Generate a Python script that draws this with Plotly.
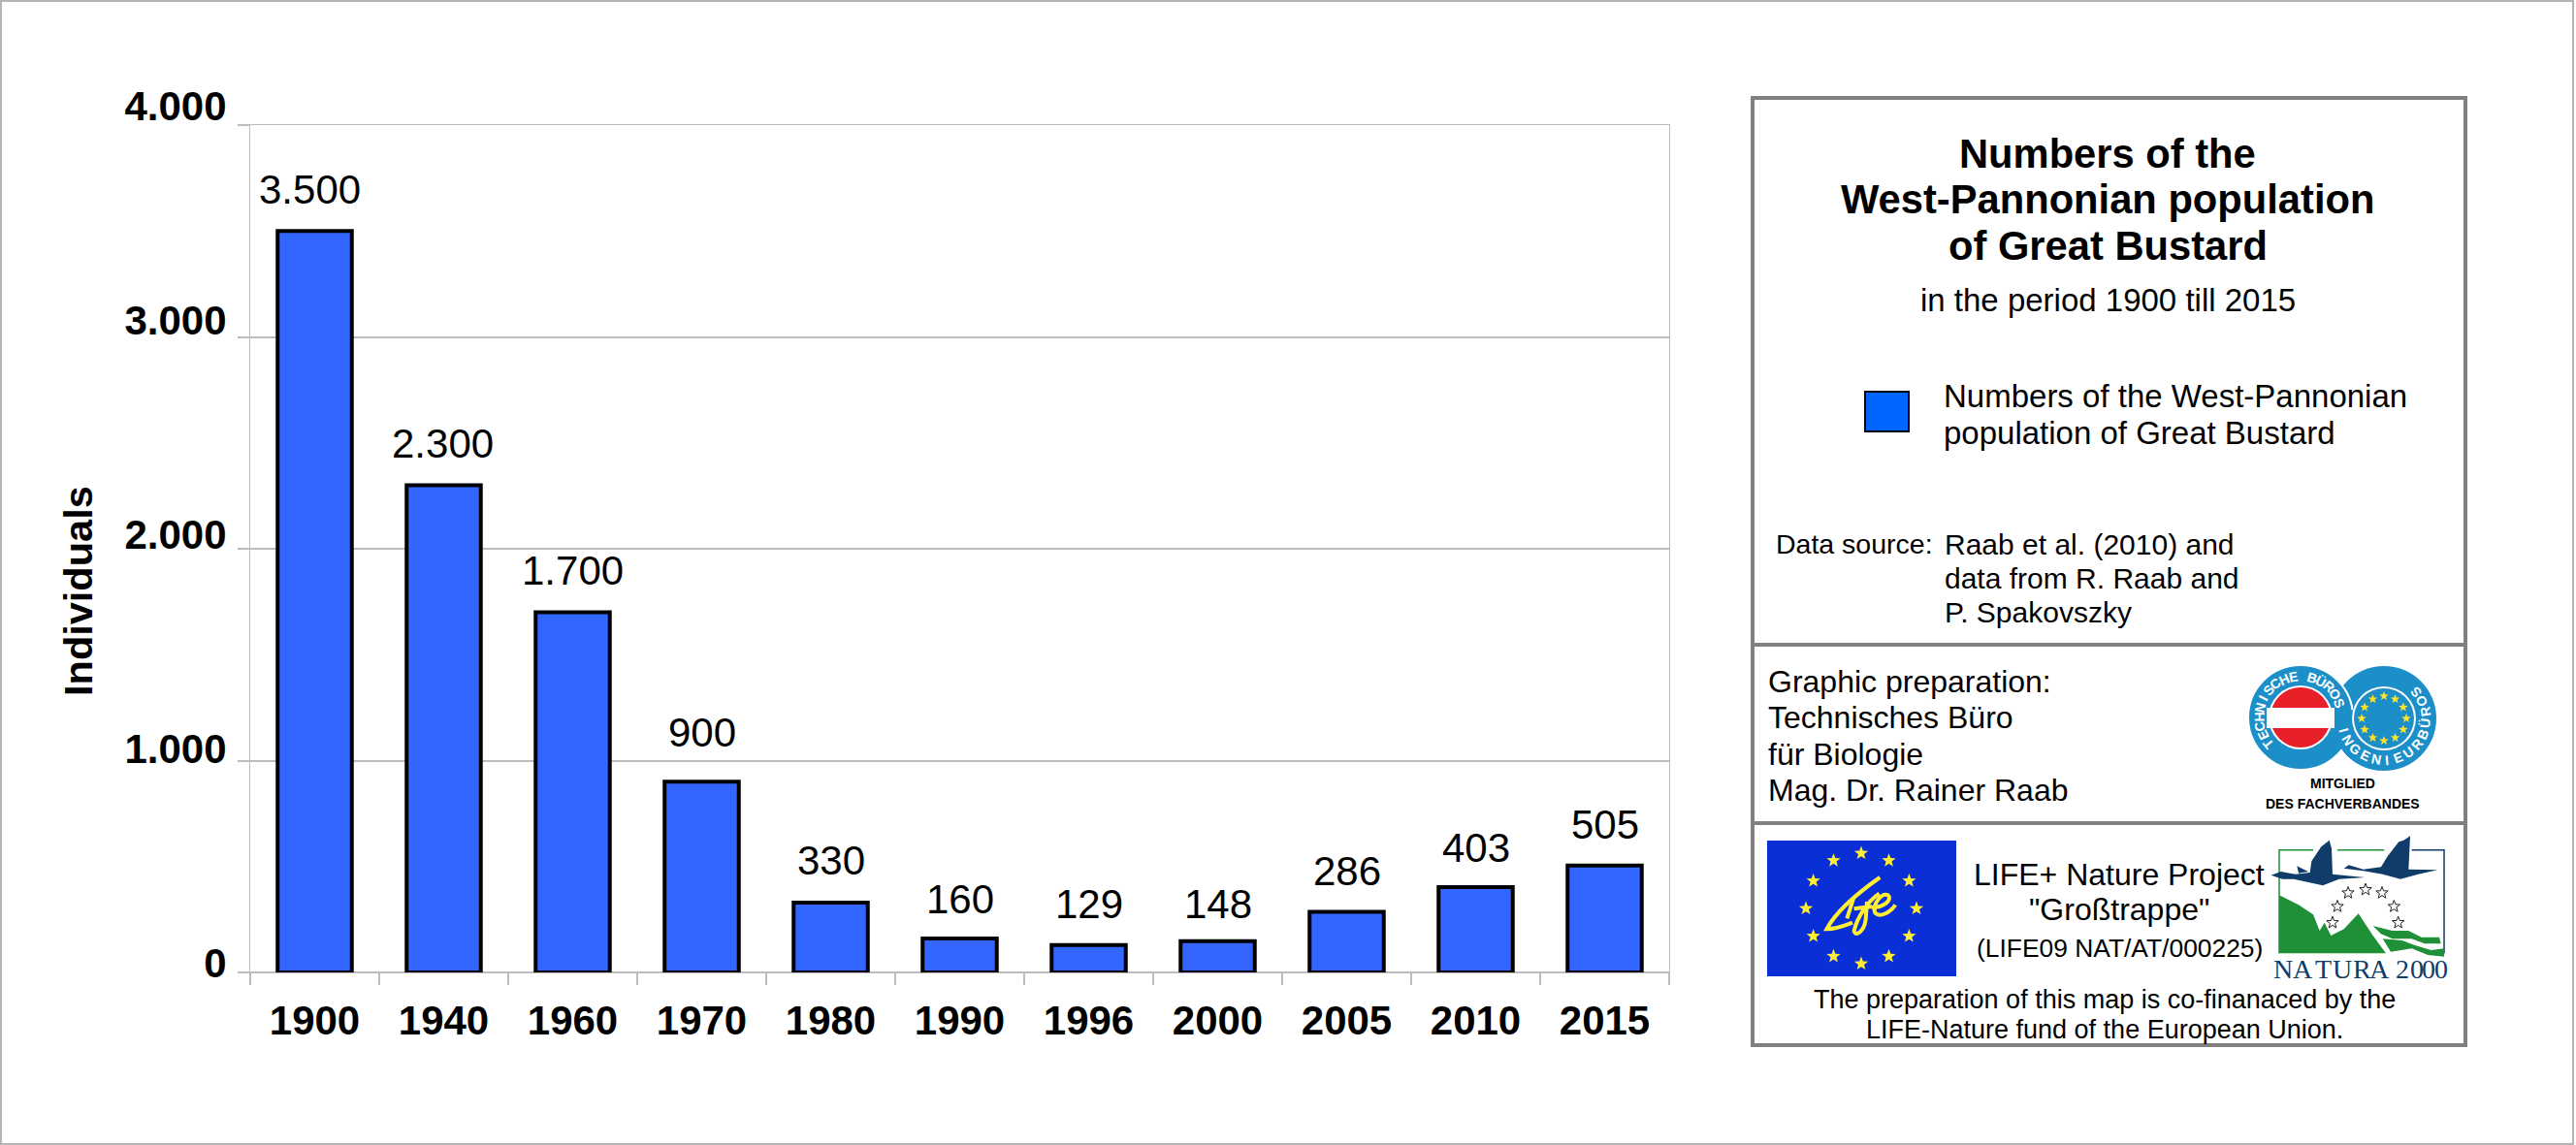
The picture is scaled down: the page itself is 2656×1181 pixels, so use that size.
import math
import plotly.graph_objects as go

# ---------- data ----------
years = ["1900", "1940", "1960", "1970", "1980", "1990", "1996", "2000", "2005", "2010", "2015"]
individuals = [3500, 2300, 1700, 900, 330, 160, 129, 148, 286, 403, 505]
value_labels = ["3.500", "2.300", "1.700", "900", "330", "160", "129", "148", "286", "403", "505"]
label_xshift = [-5, -1, 0, 0, 0, 0, 0, 0, 0, 0, 0]
label_yshift = [17, 17, 18, 25, 18, 15, 17, 13, 17, 15, 17]
y_ticks = [0, 1000, 2000, 3000, 4000]
y_tick_labels = ["0", "1.000", "2.000", "3.000", "4.000"]

W, H = 2656, 1181
FONT = "Liberation Sans"
GRID = "#bdbdbd"
BOX = "#808080"

def X(v): return v / W
def Y(v): return 1 - v / H

shapes, annots = [], []

def text(x, y, s, size, bold=False, anchor="left", color="#000", angle=0, family=FONT):
    annots.append(dict(xref="paper", yref="paper", x=X(x), y=Y(y), text=f"<b>{s}</b>" if bold else s,
                       showarrow=False, xanchor=anchor, yanchor="middle", textangle=angle,
                       font=dict(family=family, size=size, color=color), borderpad=0))

def rect(x0, y0, x1, y1, fill="rgba(0,0,0,0)", line=None, lw=0):
    shapes.append(dict(type="rect", xref="paper", yref="paper", x0=X(x0), x1=X(x1), y0=Y(y0), y1=Y(y1),
                       fillcolor=fill, line=dict(color=line or "rgba(0,0,0,0)", width=lw), layer="above"))

def circle(cx, cy, r, fill, line=None, lw=0):
    shapes.append(dict(type="circle", xref="paper", yref="paper", x0=X(cx - r), x1=X(cx + r), y0=Y(cy - r), y1=Y(cy + r),
                       fillcolor=fill, line=dict(color=line or "rgba(0,0,0,0)", width=lw), layer="above"))

def poly(pts, fill="rgba(0,0,0,0)", line=None, lw=0, close=True):
    d = "M " + " L ".join(f"{X(a):.5f} {Y(b):.5f}" for a, b in pts) + (" Z" if close else "")
    shapes.append(dict(type="path", xref="paper", yref="paper", path=d, fillcolor=fill,
                       line=dict(color=line or "rgba(0,0,0,0)", width=lw), layer="above"))

def star(cx, cy, r, fill, line=None, lw=0):
    pts = []
    for i in range(10):
        rr = r if i % 2 == 0 else r * 0.42
        a = -math.pi / 2 + i * math.pi / 5
        pts.append((cx + rr * math.cos(a), cy + rr * math.sin(a)))
    poly(pts, fill, line, lw)

def curve(cmds, ox, oy, k, color, lw):
    out = []
    for c in cmds:
        if isinstance(c, str):
            out.append(c)
        else:
            out.append(f"{X(ox + c[0] / k):.5f} {Y(oy + c[1] / k):.5f}")
    shapes.append(dict(type="path", xref="paper", yref="paper", path=" ".join(out), fillcolor="rgba(0,0,0,0)",
                       line=dict(color=color, width=lw), layer="above"))

# ---------- outer frame ----------
rect(1, 1, W - 3, H - 1, line="#b4b4b4", lw=2)

# ---------- right-hand panel ----------
rect(1807, 101, 2542, 1078, fill="#fff", line=BOX, lw=4)
shapes.append(dict(type="line", xref="paper", yref="paper", x0=X(1807), x1=X(2542), y0=Y(665), y1=Y(665), line=dict(color=BOX, width=4), layer="above"))
shapes.append(dict(type="line", xref="paper", yref="paper", x0=X(1807), x1=X(2542), y0=Y(849), y1=Y(849), line=dict(color=BOX, width=4), layer="above"))

cx = 2173
text(cx, 158, "Numbers of the", 41.7, True, "center")
text(cx, 206, "West-Pannonian population", 41.7, True, "center")
text(cx, 254, "of Great Bustard", 41.7, True, "center")
text(cx, 310, "in the period 1900 till 2015", 33, False, "center")
rect(1923, 404, 1968, 445, fill="#0066ff", line="#000", lw=2)
text(2003, 408, "Numbers of the West-Pannonian", 33)
text(2003, 446, "population of Great Bustard", 33)
text(1830, 561, "Data source:", 28.5)
text(2004, 561, "Raab et al. (2010) and", 30)
text(2004, 596, "data from R. Raab and", 30)
text(2004, 631, "P. Spakovszky", 30)
text(1822, 703, "Graphic preparation:", 32)
text(1822, 740, "Technisches Büro", 32)
text(1822, 778, "für Biologie", 32)
text(1822, 815, "Mag. Dr. Rainer Raab", 32)
text(2185, 902, "LIFE+ Nature Project", 32, False, "center")
text(2185, 938, '"Großtrappe"', 32, False, "center")
text(2185, 978, "(LIFE09 NAT/AT/000225)", 26.4, False, "center")
text(2170, 1031, "The preparation of this map is co-finanaced by the", 27, False, "center")
text(2170, 1062, "LIFE-Nature fund of the European Union.", 27, False, "center")

# ---------- LIFE logo ----------
rect(1822, 867, 2017, 1007, fill="#0b2fd6")
for i in range(12):
    a = i * math.pi / 6
    star(1919 + 57 * math.cos(a), 937 + 57 * math.sin(a), 7.5, "#ffee33")
life = [["M", (370, 135), "C", (320, 170), (240, 230), (205, 295), "C", (230, 295), (260, 285), (285, 275)],
        ["M", (288, 200), "L", (268, 262)],
        ["M", (368, 185), "C", (330, 210), (300, 260), (290, 300), "C", (295, 322), (322, 300), (326, 265), "L", (330, 210), "M", (290, 232), "L", (345, 225)],
        ["M", (345, 228), "C", (380, 228), (410, 205), (395, 190), "C", (375, 180), (345, 220), (355, 245), "C", (370, 260), (400, 245), (418, 220)]]
for c in life:
    curve(c, 1815, 860, 3, "#ffee33", 4)

# ---------- Technical offices logo ----------
BL = "#1c8fc9"
circle(2458, 741, 54, BL)
circle(2372, 740, 54, BL, "#fff", 2)
def sector(cxx, cyy, r0, r1, a0, a1, fill, line=None, lw=0):
    n = 24
    outer = [(cxx + r1 * math.cos(math.radians(a0 + (a1 - a0) * i / n)), cyy + r1 * math.sin(math.radians(a0 + (a1 - a0) * i / n))) for i in range(n + 1)]
    inner = [(cxx + r0 * math.cos(math.radians(a1 + (a0 - a1) * i / n)), cyy + r0 * math.sin(math.radians(a1 + (a0 - a1) * i / n))) for i in range(n + 1)]
    poly(outer + inner, fill, line, lw)
sector(2458, 741, 32, 54, 95, 195, BL)
circle(2372, 740, 33, "#fff")
circle(2372, 740, 31, "#e8202a")
rect(2337, 730, 2407, 751, fill="#fff")
circle(2458, 741, 33, "#fff")
circle(2458, 741, 31, BL)
for i in range(12):
    a = i * math.pi / 6
    star(2458 + 23 * math.cos(a), 741 + 23 * math.sin(a), 5, "#ffe22a")
def arc_text(s, cxx, cyy, r, a0, a1, inward, size):
    n = len(s)
    for i, ch in enumerate(s):
        if ch == " ":
            continue
        a = a0 + (a1 - a0) * i / (n - 1)
        rot = a - 90 if inward else a + 90
        text(cxx + r * math.cos(math.radians(a)), cyy + r * math.sin(math.radians(a)), ch, size, True, "center", "#fff", rot)
arc_text("TECHNISCHE BÜROS", 2372, 740, 43, 141, 339, False, 14)
arc_text("INGENIEURBÜROS", 2458, 741, 43, 164, -40, True, 14)
text(2415, 808, "MITGLIED", 14, True, "center")
text(2415, 829, "DES FACHVERBANDES", 14, True, "center")

# ---------- NATURA 2000 logo ----------
def nz(p): return [(2340 + a / 3, 855 + b / 3) for a, b in p]
GR, NV = "#1f8f38", "#0f3c68"
poly(nz([(30, 385), (30, 65), (135, 65)]), line=GR, lw=1.5, close=False)
poly(nz([(210, 65), (355, 65)]), line=GR, lw=1.5, close=False)
poly(nz([(440, 65), (540, 65), (540, 385)]), line=NV, lw=1.5, close=False)
poly(nz([(30, 205), (90, 235), (135, 265), (155, 315), (170, 290), (190, 330), (230, 310), (275, 262), (320, 330), (360, 385), (30, 385)]), GR)
poly(nz([(320, 300), (380, 315), (430, 315), (470, 335), (525, 335), (530, 355), (480, 355), (440, 340), (380, 340), (345, 325)]), GR)
poly(nz([(350, 340), (410, 345), (450, 360), (500, 375), (540, 370), (540, 395), (490, 390), (440, 370), (375, 380)]), GR)
poly(nz([(5, 143), (35, 132), (80, 140), (125, 135), (130, 100), (160, 55), (185, 35), (192, 60), (195, 140), (295, 150), (215, 155), (165, 175), (120, 165), (75, 155), (40, 155)]), NV)
poly(nz([(85, 115), (120, 132), (90, 137)]), NV)
poly(nz([(230, 122), (245, 112), (290, 125), (345, 118), (365, 85), (400, 40), (415, 35), (435, 22), (430, 125), (520, 127), (460, 140), (405, 155), (350, 140), (290, 130)]), NV)
for a, b in [(195, 290), (210, 240), (243, 198), (297, 188), (348, 198), (385, 240), (398, 290)]:
    star(2340 + a / 3, 855 + b / 3, 6.5, "#fff", "#222", 1)
for ch, a in zip("NATURA2000", [43, 103, 165, 225, 285, 340, 412, 455, 492, 530]):
    text(2340 + a / 3, 855 + 434 / 3, ch, 28, False, "center", NV, 0, "Liberation Serif")

# ---------- chart ----------
for i, (v, lab, dx, dy) in enumerate(zip(individuals, value_labels, label_xshift, label_yshift)):
    annots.append(dict(xref="x", yref="y", x=i, y=v, text=lab, showarrow=False, yanchor="bottom",
                       xshift=dx, yshift=dy, font=dict(family=FONT, size=42, color="#000")))
text(80, 610, "Individuals", 41.5, True, "center", "#000", -90)

fig = go.Figure()
fig.add_trace(go.Bar(x=years, y=individuals, width=0.575, showlegend=False,
                     marker=dict(color="#3366ff", line=dict(color="#000", width=4))))
# separate twin axis carries the tick labels, which sit slightly above their grid lines in the original
fig.add_trace(go.Scatter(x=years, y=individuals, yaxis="y2", mode="markers", showlegend=False,
                         marker=dict(opacity=0), hoverinfo="skip"))
fig.update_layout(
    width=W, height=H, margin=dict(l=0, r=0, t=0, b=0, autoexpand=False), paper_bgcolor="#fff", plot_bgcolor="rgba(0,0,0,0)",
    shapes=shapes, annotations=annots, showlegend=False,
    xaxis=dict(domain=[X(258), X(1721)], type="category", categoryorder="array", categoryarray=years,
               range=[-0.5, 10.5], tickson="boundaries", ticks="outside", ticklen=12, tickwidth=2, tickcolor=GRID,
               showgrid=False, showline=True, linecolor=GRID, linewidth=1, mirror=True, zeroline=False, automargin=False,
               ticklabelstandoff=13, tickfont=dict(family=FONT, size=42, color="#000", weight="bold")),
    yaxis=dict(domain=[Y(1003), Y(129)], range=[0, 4000], tickvals=y_ticks, showticklabels=False, automargin=False,
               ticks="outside", ticklen=12, tickwidth=2, tickcolor=GRID, showgrid=True, gridcolor=GRID, gridwidth=2,
               showline=True, linecolor=GRID, linewidth=1, mirror=True, zeroline=True, zerolinecolor=GRID, zerolinewidth=2),
    yaxis2=dict(domain=[Y(993), Y(109)], anchor="free", position=X(258), side="left", range=[0, 4000], automargin=False,
                tickvals=y_ticks, ticktext=y_tick_labels, showgrid=False, zeroline=False, showline=False,
                ticks="outside", ticklen=16, tickcolor="rgba(0,0,0,0)",
                tickfont=dict(family=FONT, size=42, color="#000", weight="bold")),
)
fig.write_html("out.html", config=dict(displayModeBar=False),
               post_script="document.body.style.margin='0';document.documentElement.style.overflow='hidden';")
